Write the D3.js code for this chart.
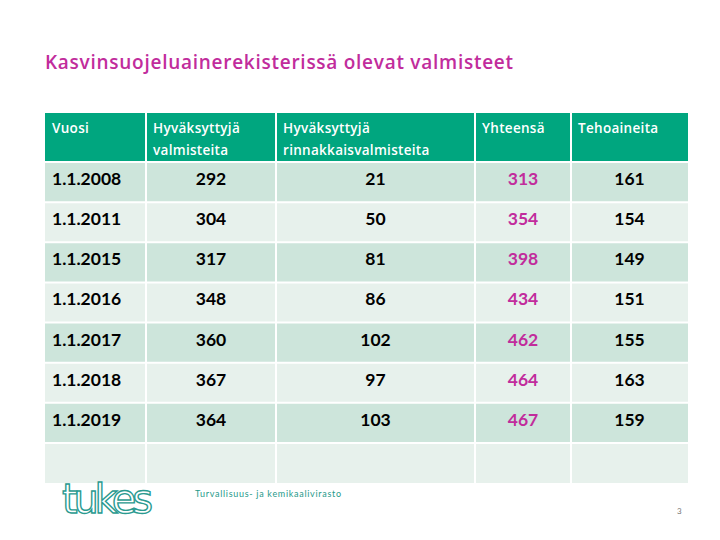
<!DOCTYPE html>
<html>
<head>
<meta charset="utf-8">
<script src="https://cdn.jsdelivr.net/npm/d3@7"></script>
<style>
  body { margin: 0; background: #fff; }
  svg { display: block; }
</style>
</head>
<body>
<div class="svg"></div>
<script>
var svgWidth = 720;
var svgHeight = 540;

// table data
var headers = [["Vuosi"], ["Hyväksyttyjä", "valmisteita"], ["Hyväksyttyjä", "rinnakkaisvalmisteita"], ["Yhteensä"], ["Tehoaineita"]];
var years = ["1.1.2008", "1.1.2011", "1.1.2015", "1.1.2016", "1.1.2017", "1.1.2018", "1.1.2019"];
var approved = [292, 304, 317, 348, 360, 367, 364];
var parallel = [21, 50, 81, 86, 102, 97, 103];
var total = [313, 354, 398, 434, 462, 464, 467];
var activeSubstances = [161, 154, 149, 151, 155, 163, 159];

var font = "Lato, 'Open Sans', sans-serif";
var wideFont = "'Open Sans', sans-serif";
var headerColor = "#00a67f";
var darkRow = "#cde5db";
var lightRow = "#e7f1ec";
var magenta = "#c12c9c";

var svg = d3.select(".svg")
  .append("svg")
  .attr("width", svgWidth)
  .attr("height", svgHeight);

// title
svg.append("text")
  .text("Kasvinsuojeluainerekisterissä olevat valmisteet")
  .attr("x", 45)
  .attr("y", 69)
  .attr("font-family", wideFont)
  .attr("font-size", 19)
  .attr("font-weight", 600)
  .attr("textLength", 468)
  .attr("fill", magenta);

// column edges
var colEdges = [45, 146, 276, 475, 571, 688];
var headerTop = 113, headerBottom = 162;

// rows: data rows + one empty row
var rowKeys = years.concat([""]);
var rowScale = d3.scaleBand()
  .domain(d3.range(rowKeys.length))
  .range([headerBottom, 483]);

var rows = years.map(function(y, i) {
  return [y, approved[i], parallel[i], total[i], activeSubstances[i]];
});
rows.push(["", "", "", "", ""]);

// header cells
svg.append("g")
  .selectAll("rect")
  .data(headers)
  .enter()
  .append("rect")
  .attr("x", function(d, i) { return colEdges[i]; })
  .attr("y", headerTop)
  .attr("width", function(d, i) { return colEdges[i + 1] - colEdges[i]; })
  .attr("height", headerBottom - headerTop)
  .attr("fill", headerColor);

var headerText = svg.append("g")
  .selectAll("text")
  .data(headers)
  .enter()
  .append("text")
  .attr("x", function(d, i) { return colEdges[i] + 7; })
  .attr("y", 133)
  .attr("font-family", wideFont)
  .attr("font-size", 13.5)
  .attr("font-weight", 600)
  .attr("letter-spacing", 0.3)
  .attr("fill", "#fff");

headerText.selectAll("tspan")
  .data(function(d) { return d; })
  .enter()
  .append("tspan")
  .attr("x", function() { return this.parentNode.getAttribute("x"); })
  .attr("dy", function(d, i) { return i == 0 ? 0 : 22; })
  .text(function(d) { return d; });

// body cells
var rowGroups = svg.append("g")
  .selectAll("g")
  .data(rows)
  .enter()
  .append("g")
  .attr("transform", function(d, i) { return "translate(0," + rowScale(i) + ")"; });

rowGroups.selectAll("rect")
  .data(function(d, i) { return d.map(function(v) { return { v: v, row: i }; }); })
  .enter()
  .append("rect")
  .attr("x", function(d, i) { return colEdges[i]; })
  .attr("y", 0)
  .attr("width", function(d, i) { return colEdges[i + 1] - colEdges[i]; })
  .attr("height", rowScale.bandwidth())
  .attr("fill", function(d) { return d.row % 2 == 0 ? darkRow : lightRow; });

rowGroups.selectAll("text")
  .data(function(d) { return d; })
  .enter()
  .append("text")
  .text(function(d) { return d; })
  .attr("x", function(d, i) {
    return i == 0 ? colEdges[0] + 7 : (colEdges[i] + colEdges[i + 1]) / 2;
  })
  .attr("y", function(d, i) { return rowScale.bandwidth() / 2 + 3; })
  .attr("text-anchor", function(d, i) { return i == 0 ? "start" : "middle"; })
  .attr("font-family", font)
  .attr("font-weight", "bold")
  .attr("font-size", 17.5)
  .attr("fill", function(d, i) { return i == 3 ? magenta : "#000"; });

// white grid lines between cells
var grid = svg.append("g").attr("stroke", "#fff").attr("stroke-width", 2);
grid.selectAll(".v")
  .data(colEdges.slice(1, -1))
  .enter()
  .append("line")
  .attr("x1", function(d) { return d; })
  .attr("x2", function(d) { return d; })
  .attr("y1", headerTop)
  .attr("y2", 483);
grid.selectAll(".h")
  .data(d3.range(rowKeys.length))
  .enter()
  .append("line")
  .attr("x1", colEdges[0])
  .attr("x2", colEdges[colEdges.length - 1])
  .attr("y1", function(d) { return rowScale(d); })
  .attr("y2", function(d) { return rowScale(d); });

// footer
svg.append("text")
  .text("tukes")
  .attr("x", 62)
  .attr("y", 513)
  .attr("font-family", "'DejaVu Sans', sans-serif")
  .attr("font-size", 40)
  .attr("textLength", 91)
  .attr("fill", "#fff")
  .attr("stroke", "#2a9a90")
  .attr("stroke-width", 1.4);

svg.append("text")
  .text("Turvallisuus- ja kemikaalivirasto")
  .attr("x", 195)
  .attr("y", 497)
  .attr("font-family", font)
  .attr("font-size", 9)
  .attr("textLength", 146)
  .attr("fill", "#1f9a8a");

svg.append("text")
  .text("3")
  .attr("x", 677)
  .attr("y", 514)
  .attr("font-family", font)
  .attr("font-size", 8)
  .attr("fill", "#777");
</script>
</body>
</html>
